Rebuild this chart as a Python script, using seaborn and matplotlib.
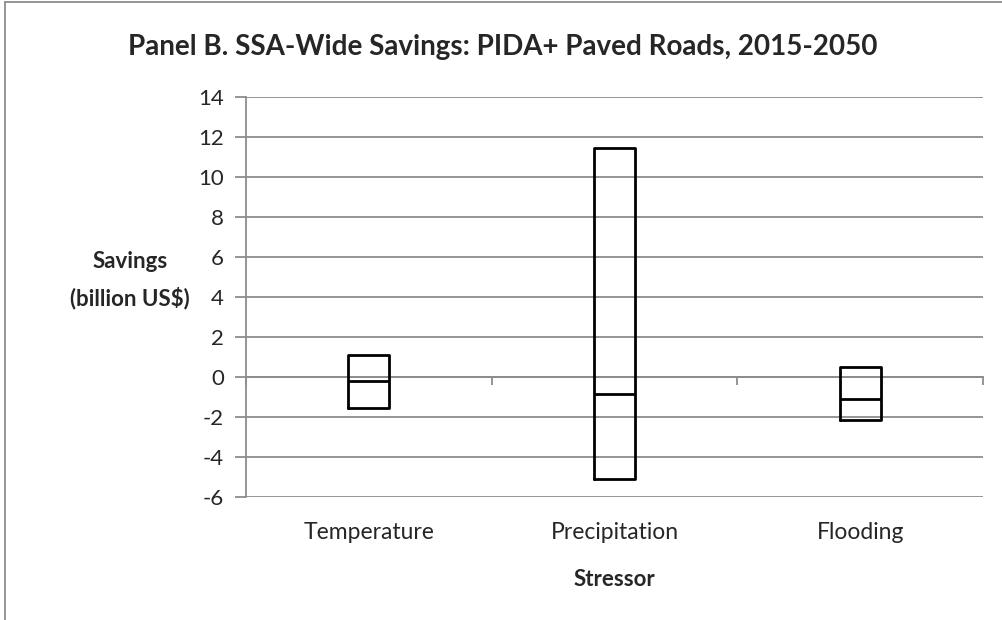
import matplotlib
matplotlib.use("Agg")
import matplotlib.pyplot as plt
import seaborn as sns
import pandas as pd
from matplotlib.lines import Line2D

categories = ["Temperature", "Precipitation", "Flooding"]
min_vals = [-1.55, -5.12, -2.17]
median_vals = [-0.22, -0.83, -1.08]
max_vals = [1.08, 11.45, 0.5]
y_ticks = [-6, -4, -2, 0, 2, 4, 6, 8, 10, 12, 14]

# Build long data: [min, min, median, max, max] -> Q1=min, median, Q3=max
rows = []
for c, lo, md, hi in zip(categories, min_vals, median_vals, max_vals):
    for v in (lo, lo, md, hi, hi):
        rows.append({"Stressor": c, "Savings": v})
df = pd.DataFrame(rows)

sns.set_theme(style="white")
plt.rcParams["font.family"] = ["Lato", "DejaVu Sans"]

fig = plt.figure(figsize=(10.02, 6.2), dpi=100)
ax = fig.add_axes([0.2455, 0.1984, 0.981 - 0.2455, 0.8435 - 0.1984])

grid_c = "#8c8c8c"
for t in y_ticks:
    ax.axhline(t, color=grid_c, lw=1.3, zorder=0)

sns.boxplot(data=df, x="Stressor", y="Savings", order=categories, ax=ax,
            width=0.167, whis=0, showcaps=False, showfliers=False, fill=False,
            linewidth=2, color="black",
            boxprops=dict(color="black", linewidth=2),
            medianprops=dict(color="black", linewidth=2),
            whiskerprops=dict(linewidth=0))

ax.set_xlim(-0.5, 2.5)
ax.set_ylim(-6, 14)
ax.set_yticks(y_ticks)
ax.set_yticklabels([str(t) for t in y_ticks], fontsize=16)
ax.tick_params(axis="y", direction="out", length=8, width=1.3, color=grid_c, pad=8, left=True)
ax.tick_params(axis="x", length=0, labelsize=16.5, pad=18)

for s in ["top", "right", "bottom"]:
    ax.spines[s].set_visible(False)
ax.spines["left"].set_color(grid_c)
ax.spines["left"].set_linewidth(1.3)

sec = ax.secondary_xaxis(0.3)
sec.set_xticks([-0.5, 0.5, 1.5, 2.5])
sec.set_xticklabels([])
sec.tick_params(direction="out", length=6, width=1.3, color=grid_c)
sec.spines["bottom"].set_color(grid_c)
sec.spines["bottom"].set_linewidth(1.3)

ax.set_xlabel("Stressor", fontsize=16, fontweight="bold", labelpad=19)
ax.set_ylabel("Savings\n(billion US$)", fontsize=16, fontweight="bold",
              rotation=0, ha="center", va="center", labelpad=0, linespacing=1.75)
ax.yaxis.set_label_coords(-0.157, 0.542)

fig.text(0.502, 0.924, "Panel B. SSA-Wide Savings: PIDA+ Paved Roads, 2015-2050",
         ha="center", va="center", fontsize=20, fontweight="bold")

# chart area border (left and top)
fig.add_artist(Line2D([0.005, 0.005], [0.0, 0.997], color=grid_c, lw=1.3, transform=fig.transFigure))
fig.add_artist(Line2D([0.005, 1.0], [0.997, 0.997], color=grid_c, lw=1.3, transform=fig.transFigure))

fig.savefig("out.png", dpi=100)
